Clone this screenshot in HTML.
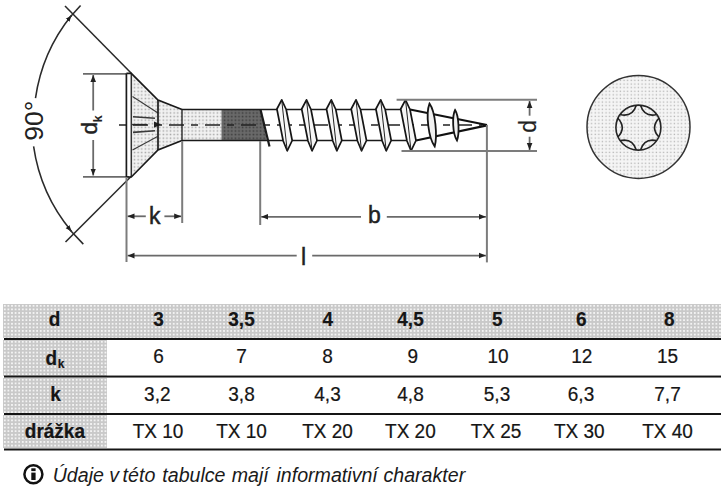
<!DOCTYPE html>
<html><head><meta charset="utf-8">
<style>
html,body{margin:0;padding:0;background:#fff;}
body{width:725px;height:495px;position:relative;overflow:hidden;font-family:"Liberation Sans",sans-serif;color:#151515;}
svg{position:absolute;left:0;top:0;}
.sh{position:absolute;background-color:#c9c9c9;
background-image:radial-gradient(circle at 1.8px 1.8px,#f3f3f3 0.8px,rgba(243,243,243,0) 1.3px);
background-size:3.6px 3.6px;}
.ln{position:absolute;left:4px;width:717px;height:2px;background:#151515;}
.t{position:absolute;-webkit-text-stroke:0.2px #151515;font-size:19px;line-height:19px;white-space:nowrap;transform:translateX(-50%) scaleY(1.07);transform-origin:50% 75%;}
.b{font-weight:bold;}
.note{position:absolute;left:0;top:464.3px;font-size:19.6px;font-style:italic;white-space:nowrap;line-height:22px;color:#1a1a1a;}
.note span{position:absolute;top:0;}
</style></head><body>
<svg width="725" height="290" viewBox="0 0 725 290">
<defs>
<pattern id="dots" width="3.6" height="3.6" patternUnits="userSpaceOnUse">
<rect width="3.6" height="3.6" fill="#f2f2f2"/>
<rect x="0.6" y="0.6" width="1.5" height="1.5" fill="#a4a4a4"/>
</pattern>
<pattern id="dots2" width="3.6" height="3.6" patternUnits="userSpaceOnUse">
<rect width="3.6" height="3.6" fill="#f5f5f5"/>
<rect x="0.6" y="0.6" width="1.3" height="1.3" fill="#b4b4b4"/>
</pattern>
<pattern id="dark" width="3.6" height="3.6" patternUnits="userSpaceOnUse">
<rect width="3.6" height="3.6" fill="#6a6a6a"/>
<rect x="0.6" y="0.6" width="1.6" height="1.6" fill="#3e3e3e"/>
</pattern>
<marker id="ar" viewBox="0 0 10 10" refX="10" refY="5" markerWidth="7" markerHeight="7" orient="auto-start-reverse" markerUnits="userSpaceOnUse">
<path d="M0,1 L10,5 L0,9 z" fill="#222"/>
</marker>
<marker id="ar2" viewBox="0 0 10 10" refX="10" refY="5" markerWidth="6" markerHeight="6" orient="auto" markerUnits="userSpaceOnUse">
<path d="M0,1 L10,5 L0,9 z" fill="#1a1a1a"/>
</marker>
</defs>

<!-- 90 degree arc -->
<g fill="none" stroke="#2a2a2a" stroke-width="1.55">
<path d="M35.5,98.2 A170.5,170.5 0 0 1 71.4,15.6" marker-end="url(#ar2)"/>
<path d="M33.6,146.4 A170.5,170.5 0 0 0 71.4,231.2" marker-end="url(#ar2)"/>
<path d="M65,6 L131.3,73.3"/>
<path d="M65.5,242 L131.3,176.2"/>
<path d="M80.6,5.5 L69.7,17.6"/>
<path d="M68.8,228.8 L83.3,244.1"/>
</g>
<text transform="translate(43,140.7) rotate(-90)" font-family="Liberation Sans" font-size="26.5" fill="#222">90°</text>

<!-- dk dimension -->
<g stroke="#6a6a6a" stroke-width="1.8" fill="none">
<path d="M83,73.8 H126"/>
<path d="M83,176.8 H129"/>
<path d="M93.2,110.5 V75" marker-end="url(#ar)"/>
<path d="M93.2,140 V175.5" marker-end="url(#ar)"/>
</g>
<text transform="translate(96.7,134.5) rotate(-90)" font-family="Liberation Sans" font-size="22.5" fill="#222" stroke="#222" stroke-width="0.4">d</text>
<text transform="translate(102.3,122.6) rotate(-90)" font-family="Liberation Sans" font-size="13" font-weight="bold" fill="#222">k</text>

<!-- screw head fills -->
<path d="M131.3,73.3 L158,100 L182,109.5 L182,140.5 L158,150 L131.3,176.7 Z" fill="url(#dots)"/>
<rect x="182" y="109.5" width="39.5" height="31" fill="url(#dots)"/>
<path d="M221.5,109.5 H260.5 L267,140.5 H221.5 Z" fill="url(#dark)"/>
<!-- head interior lines -->
<g stroke="#3a3a3a" stroke-width="1.1" fill="none">
<path d="M132.5,96.5 L158,113"/>
<path d="M132.5,150 L157.5,136.5"/>
<path d="M133,116.8 L155,118.3" stroke-width="1.6"/>
<path d="M131.5,124.6 L147,124.6" stroke-width="1.5"/>
<path d="M133,132.4 L155,130.8" stroke-width="1.6"/>
</g>
<path d="M154,121.5 L161,124.6 L154,127.7 Z" fill="#222"/>
<!-- center line -->
<path d="M116,125 H482" stroke="#222" stroke-width="1.7" stroke-dasharray="15,7,7,7" stroke-dashoffset="19" fill="none"/>
<!-- outlines -->
<g stroke="#1a1a1a" stroke-width="1.7" fill="none">
<path d="M126.4,73.3 V177"/>
<path d="M131.3,73.3 V177" stroke="#333" stroke-width="1.5"/>
<path d="M126.4,73.3 H131.3 L158,100 L182,109.5"/>
<path d="M126.4,177 H131.3 L158,150 L182,140.5"/>
<path d="M158,100 V150"/>
<path d="M182,109.5 V140.5" stroke-width="1.3"/>
<path d="M182,109.5 H404"/>
<path d="M182,140.5 H410"/>
<path d="M260.5,109.5 L269.5,146.5" stroke-width="2.2"/>
</g>

<!-- threads -->
<g stroke="#151515" stroke-width="1.7" fill="#f6f6f6" stroke-linejoin="round">
<path d="M281.7,99.8 L286.2,109.5 L292.2,140.5 L287.2,150.8 L283.2,141 L276.9,109 Z"/>
<path d="M306.5,99.8 L311,109.5 L317,140.5 L312,150.8 L308,141 L301.7,109 Z"/>
<path d="M331.3,99.8 L335.8,109.5 L341.8,140.5 L336.8,150.8 L332.8,141 L326.5,109 Z"/>
<path d="M356,99.8 L360.5,109.5 L366.5,140.5 L361.5,150.8 L357.5,141 L351.2,109 Z"/>
<path d="M380.7,99.8 L385.2,109.5 L391.2,140.5 L386.2,150.8 L382.2,141 L375.9,109 Z"/>
<path d="M405.5,99.8 L410,109.5 L416,140.5 L411,150.8 L407,141 L400.7,109 Z"/>
</g>
<g stroke="#222" stroke-width="1" fill="none">
<path d="M281.7,99.8 L287.2,150.8"/>
<path d="M306.5,99.8 L312,150.8"/>
<path d="M331.3,99.8 L336.8,150.8"/>
<path d="M356,99.8 L361.5,150.8"/>
<path d="M380.7,99.8 L386.2,150.8"/>
<path d="M405.5,99.8 L411,150.8"/>
</g>
<!-- tip -->
<g stroke="#111" stroke-width="2.2" fill="none">
<path d="M410,109.5 L487,125"/>
<path d="M416,140.5 L487,125.4"/>
</g>
<g stroke="#151515" stroke-width="1.8" fill="#f0f0f0">
<path d="M429.5,103.6 C435.5,112 437.5,136 434.7,146.4 C428.5,138 425.5,114 429.5,103.6 Z"/>
<path d="M455.1,110 C459,116 459.5,134 457,140.5 C452.5,134 452,116 455.1,110 Z"/>
</g>

<!-- d dimension -->
<g stroke="#7c7c7c" stroke-width="2" fill="none">
<path d="M396.6,99.8 H537"/>
<path d="M401.5,150.9 H537"/>
</g>
<g stroke="#6a6a6a" stroke-width="1.8" fill="none">
<path d="M529.6,115.7 V101" marker-end="url(#ar)"/>
<path d="M529.6,136.7 V150" marker-end="url(#ar)"/>
</g>
<text transform="translate(536,132.7) rotate(-90)" font-family="Liberation Sans" font-size="23" fill="#222" stroke="#222" stroke-width="0.2">d</text>

<!-- k, b, l dimensions -->
<g stroke="#7c7c7c" stroke-width="2" fill="none">
<path d="M126.5,177 V262"/>
<path d="M182.2,141 V223"/>
<path d="M260.2,141 V225"/>
<path d="M486.9,125 V262.4"/>
</g>
<g stroke="#6a6a6a" stroke-width="1.8" fill="none">
<path d="M145.8,216.3 H127.5" marker-end="url(#ar)"/>
<path d="M164.4,216.3 H181.2" marker-end="url(#ar)"/>
<path d="M361,216.8 H261.2" marker-end="url(#ar)"/>
<path d="M386.8,216.8 H485.9" marker-end="url(#ar)"/>
<path d="M296.7,255.6 H127.5" marker-end="url(#ar)"/>
<path d="M312.2,255.6 H485.9" marker-end="url(#ar)"/>
</g>
<g font-family="Liberation Sans" font-size="23" fill="#222" stroke="#222" stroke-width="0.45">
<text x="149" y="224">k</text>
<text x="368" y="223">b</text>
<text x="301" y="264.5">l</text>
</g>

<!-- torx head -->
<circle cx="638.5" cy="126.9" r="51.5" fill="url(#dots2)" stroke="#333" stroke-width="1.5"/>
<circle cx="638.4" cy="127.6" r="22.5" fill="none" stroke="#262626" stroke-width="1.6"/>
<g stroke="#222" stroke-width="1.6" fill="none" transform="translate(638.4,127.6)">
<path id="lobe" d="M20.5,-9.4 Q11.8,0 20.5,9.4"/>
<use href="#lobe" transform="rotate(60)"/>
<use href="#lobe" transform="rotate(120)"/>
<use href="#lobe" transform="rotate(180)"/>
<use href="#lobe" transform="rotate(240)"/>
<use href="#lobe" transform="rotate(300)"/>
</g>
</svg>

<!-- table -->
<div class="sh" style="left:3px;top:304px;width:718px;height:34px;"></div>
<div class="sh" style="left:3px;top:340px;width:104px;height:36px;"></div>
<div class="sh" style="left:3px;top:378px;width:104px;height:35px;"></div>
<div class="sh" style="left:3px;top:415px;width:104px;height:33px;"></div>
<div class="ln" style="top:338px;"></div>
<div class="ln" style="top:375px;height:3px;background:linear-gradient(#151515,#151515) 0 1px/100% 1px no-repeat,linear-gradient(rgba(21,21,21,.45),rgba(21,21,21,.45)) 0 0/100% 1px no-repeat,linear-gradient(rgba(21,21,21,.55),rgba(21,21,21,.55)) 0 2px/100% 1px no-repeat;"></div>
<div class="ln" style="top:413px;"></div>
<div class="ln" style="top:448px;height:3px;background:linear-gradient(#151515,#151515) 0 1px/100% 1px no-repeat,linear-gradient(rgba(21,21,21,.5),rgba(21,21,21,.5)) 0 0/100% 1px no-repeat,linear-gradient(rgba(21,21,21,.5),rgba(21,21,21,.5)) 0 2px/100% 1px no-repeat;"></div>

<div class="t b" style="left:54.5px;top:310px;">d</div>
<div class="t b" style="left:158.5px;top:310px;">3</div>
<div class="t b" style="left:241.5px;top:310px;">3,5</div>
<div class="t b" style="left:327.7px;top:310px;">4</div>
<div class="t b" style="left:410.5px;top:310px;">4,5</div>
<div class="t b" style="left:497.4px;top:310px;">5</div>
<div class="t b" style="left:581.2px;top:310px;">6</div>
<div class="t b" style="left:669.4px;top:310px;">8</div>

<div class="t b" style="left:55px;top:349px;">d<span style="font-size:12px;position:relative;top:3px;margin-left:0.6px;">k</span></div>
<div class="t" style="left:158.5px;top:347px;">6</div>
<div class="t" style="left:241.5px;top:347px;">7</div>
<div class="t" style="left:327.5px;top:347px;">8</div>
<div class="t" style="left:412.8px;top:347px;">9</div>
<div class="t" style="left:498px;top:347px;">10</div>
<div class="t" style="left:581.8px;top:347px;">12</div>
<div class="t" style="left:667.5px;top:347px;">15</div>

<div class="t b" style="left:55.6px;top:385px;">k</div>
<div class="t" style="left:157.3px;top:384.6px;">3,2</div>
<div class="t" style="left:241.5px;top:384.6px;">3,8</div>
<div class="t" style="left:327.5px;top:384.6px;">4,3</div>
<div class="t" style="left:410.5px;top:384.6px;">4,8</div>
<div class="t" style="left:497px;top:384.6px;">5,3</div>
<div class="t" style="left:581px;top:384.6px;">6,3</div>
<div class="t" style="left:667.5px;top:384.6px;">7,7</div>

<div class="t b" style="left:54.9px;top:422px;">drážka</div>
<div class="t" style="left:158px;top:422px;">TX 10</div>
<div class="t" style="left:241.5px;top:422px;">TX 10</div>
<div class="t" style="left:327.5px;top:422px;">TX 20</div>
<div class="t" style="left:410.4px;top:422px;">TX 20</div>
<div class="t" style="left:496.1px;top:422px;">TX 25</div>
<div class="t" style="left:579.3px;top:422px;">TX 30</div>
<div class="t" style="left:667.5px;top:422px;">TX 40</div>

<!-- note -->
<svg width="725" height="495" style="position:absolute;left:0;top:0;pointer-events:none">
<circle cx="33.4" cy="474.2" r="9" fill="none" stroke="#111" stroke-width="2.5"/>
<rect x="31.3" y="468.3" width="4.3" height="2.8" fill="#111"/>
<rect x="31.3" y="472.6" width="4.3" height="7.4" fill="#111"/>
</svg>
<div class="note"><span style="left:52.7px">Údaje</span><span style="left:109.3px">v</span><span style="left:122.6px">této</span><span style="left:162.3px">tabulce</span><span style="left:231.8px">mají</span><span style="left:276.5px">informativní</span><span style="left:383.5px">charakter</span></div>
</body></html>
